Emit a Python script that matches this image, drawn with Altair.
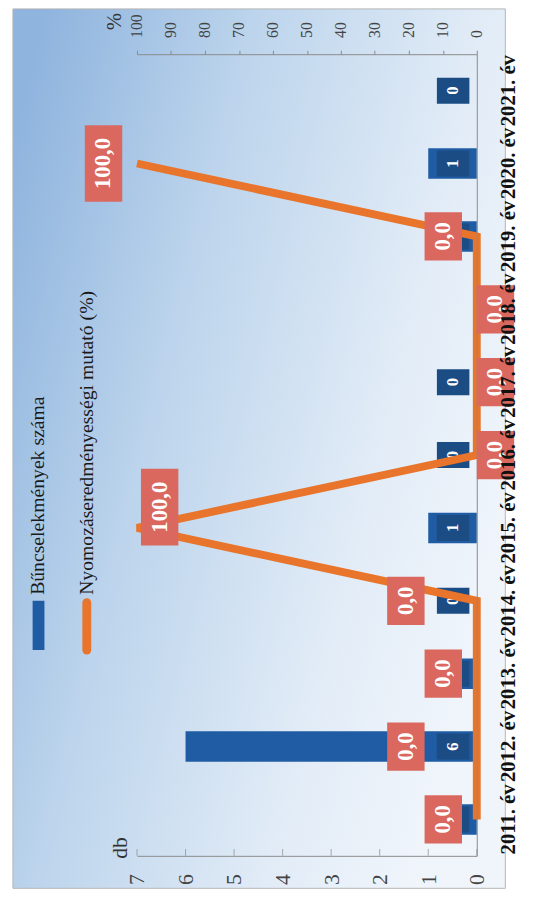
import altair as alt
import pandas as pd

# ---------------- data ----------------
years = ["2011. év", "2012. év", "2013. év", "2014. év", "2015. év", "2016. év",
         "2017. év", "2018. év", "2019. év", "2020. év", "2021. év"]
crimes = [1, 6, 1, 0, 1, 0, 0, None, 1, 1, 0]              # Bűncselekmények száma (db)
ratio = [0.0, 0.0, 0.0, 0.0, 100.0, 0.0, 0.0, 0.0, 0.0, 100.0, None]  # Nyomozáseredményességi mutató (%)
db_ticks = [0, 1, 2, 3, 4, 5, 6, 7]
pct_ticks = [0, 10, 20, 30, 40, 50, 60, 70, 80, 90, 100]
legend_labels = ["Bűncselekmények száma", "Nyomozáseredményességi mutató (%)"]
unit_labels = ["db", "%"]

# ---------------- style ----------------
W, H = 345, 814
FONT = "Liberation Serif"
BLUE = "#1f5ca3"
NAVY = "#1b4c84"
ORANGE = "#e8752b"
SALMON = "#da685f"
AXIS = "#8a8a8a"

# label placement groups (style, like per-label position in the source)
near = ["2011. év", "2013. év", "2019. év", "2020. év"]
far = ["2012. év", "2014. év"]
right = ["2015. év"]
below = ["2016. év", "2017. év", "2018. év"]

df = pd.DataFrame({"ev": years, "idx": list(range(len(years))), "db": crimes, "pct": ratio})
one = pd.DataFrame({"k": [0]})
base = alt.Chart(df)

y_enc = alt.Y("ev:N", sort=list(reversed(years)), title=None,
              scale=alt.Scale(paddingInner=0, paddingOuter=0),
              axis=alt.Axis(orient="right", labelAngle=270, labelAlign="center",
                            labelBaseline="top", labelFont=FONT, labelFontWeight="bold",
                            labelFontSize=21, labelColor="#111111", labelPadding=21,
                            ticks=False, domainColor=AXIS, grid=False, zindex=2))

db_scale = alt.Scale(domain=[0, 7], reverse=True, nice=False)
pct_scale = alt.Scale(domain=[0, 100], reverse=True, nice=False)

x_db = alt.X("db:Q", title=None, scale=db_scale,
             axis=alt.Axis(orient="bottom", values=db_ticks, labelAngle=270, labelAlign="right",
                           labelBaseline="middle", labelFont=FONT, labelFontSize=22,
                           labelColor="#444444", labelPadding=18, ticks=False,
                           domainColor=AXIS, grid=False, zindex=1))
x_db_noaxis = alt.X("db:Q", title=None, scale=db_scale, axis=None)

x_pct = alt.X("pct:Q", title=None, scale=pct_scale,
              axis=alt.Axis(orient="top", values=pct_ticks, labelAngle=270, labelAlign="left",
                            labelBaseline="middle", labelFont=FONT, labelFontSize=16,
                            labelColor="#444444", labelPadding=13, tickSize=4,
                            tickColor=AXIS, domainColor=AXIS, grid=False, zindex=1))
x_pct_noaxis = alt.X("pct:Q", title=None, scale=pct_scale, axis=None)

# ---------------- decorations ----------------
grad = alt.LinearGradient(gradient="linear", x1=0, y1=0.15, x2=1, y2=0.6,
                          stops=[alt.GradientStop(color="#8fb4de", offset=0),
                                 alt.GradientStop(color="#bcd4ec", offset=0.35),
                                 alt.GradientStop(color="#e2ecf7", offset=0.75),
                                 alt.GradientStop(color="#f0f5fb", offset=1)])
bg = alt.Chart(one).mark_rect(fill=grad, stroke="#b5b5b5", strokeWidth=1).encode(
    x=alt.value(-126), x2=alt.value(374), y=alt.value(-46), y2=alt.value(847))

leg_sym1 = alt.Chart(one).mark_rect(color=BLUE).encode(
    x=alt.value(-106), x2=alt.value(-94), y=alt.value(555), y2=alt.value(605))
leg_sym2 = alt.Chart(one).mark_rule(color=ORANGE, strokeWidth=9, strokeCap="round").encode(
    x=alt.value(-51), y=alt.value(557), y2=alt.value(605))
leg_txt1 = alt.Chart(one).mark_text(text=legend_labels[0], angle=270, align="left",
                                    baseline="middle", font=FONT, fontSize=20,
                                    color="#1a1a1a").encode(x=alt.value(-100), y=alt.value(549))
leg_txt2 = alt.Chart(one).mark_text(text=legend_labels[1], angle=270, align="left",
                                    baseline="middle", font=FONT, fontSize=20,
                                    color="#1a1a1a").encode(x=alt.value(-51), y=alt.value(549))
unit_db = alt.Chart(one).mark_text(text=unit_labels[0], angle=270, align="center",
                                   baseline="middle", font=FONT, fontSize=22,
                                   color="#333333").encode(x=alt.value(-17), y=alt.value(806))
unit_pct = alt.Chart(one).mark_text(text=unit_labels[1], angle=270, align="center",
                                    baseline="middle", font=FONT, fontSize=21,
                                    color="#333333").encode(x=alt.value(-22), y=alt.value(-33))

# ---------------- count marks ----------------
bars = base.transform_filter("isValid(datum.db)").mark_bar(size=31, color=BLUE).encode(
    x=x_db, y=y_enc)
ticks = alt.Chart(pd.DataFrame({"db": db_ticks})).mark_tick(
    size=7, thickness=1, color=AXIS, orient="vertical").encode(x=x_db_noaxis, y=alt.value(H - 3.5))
cnt = base.transform_filter("isValid(datum.db)")
cnt_box = cnt.mark_point(shape="M-1,-0.8H1V0.8H-1Z", size=33 * 33, filled=True, opacity=1,
                         color=NAVY, strokeWidth=0).encode(x=alt.value(W - 24), y=y_enc)
cnt_txt = cnt.mark_text(angle=270, align="center", baseline="middle", font=FONT,
                        fontWeight="bold", fontSize=17, color="white").encode(
    x=alt.value(W - 24), y=y_enc, text=alt.Text("db:Q", format="d"))

# ---------------- percent marks ----------------
pct_valid = base.transform_filter("isValid(datum.pct)").transform_calculate(
    lbl="replace(format(datum.pct, '.1f'), '.', ',')")
line = pct_valid.mark_line(color=ORANGE, strokeWidth=8).encode(
    x=x_pct, y=y_enc, order="idx:Q")

SHORT = "M-1,-1.29H1V1.29H-1Z"
LONG = "M-1,-2.05H1V2.05H-1Z"


def pct_labels(sel_years, dx, dy=0):
    sel = pct_valid.transform_filter(alt.FieldOneOfPredicate(field="ev", oneOf=sel_years))
    short = sel.transform_filter("datum.pct < 100").mark_point(
        shape=SHORT, size=38 * 38, filled=True, opacity=1, color=SALMON, strokeWidth=0,
        xOffset=dx, yOffset=dy).encode(x=x_pct_noaxis, y=y_enc)
    long = sel.transform_filter("datum.pct >= 100").mark_point(
        shape=LONG, size=38 * 38, filled=True, opacity=1, color=SALMON, strokeWidth=0,
        xOffset=dx, yOffset=dy).encode(x=x_pct_noaxis, y=y_enc)
    txt = sel.mark_text(angle=270, align="center", baseline="middle", font=FONT,
                        fontWeight="bold", fontSize=23, color="white",
                        xOffset=dx, yOffset=dy).encode(x=x_pct_noaxis, y=y_enc, text="lbl:N")
    return [short, long, txt]


labels = (pct_labels(near, -34) + pct_labels(far, -72) +
          pct_labels(right, 23, -21) + pct_labels(below, 19))

chart = alt.layer(bg, leg_sym1, leg_sym2, leg_txt1, leg_txt2, unit_db, unit_pct,
                  bars, ticks, cnt_box, cnt_txt, line, *labels).resolve_scale(
    x="independent").properties(
    width=W, height=H,
    autosize=alt.AutoSizeParams(type="none"),
    padding={"left": 131, "top": 40, "right": 51, "bottom": 43},
    background="white",
).configure_view(stroke=None)

chart.save("out.html", embed_options={"renderer": "svg", "actions": False})
